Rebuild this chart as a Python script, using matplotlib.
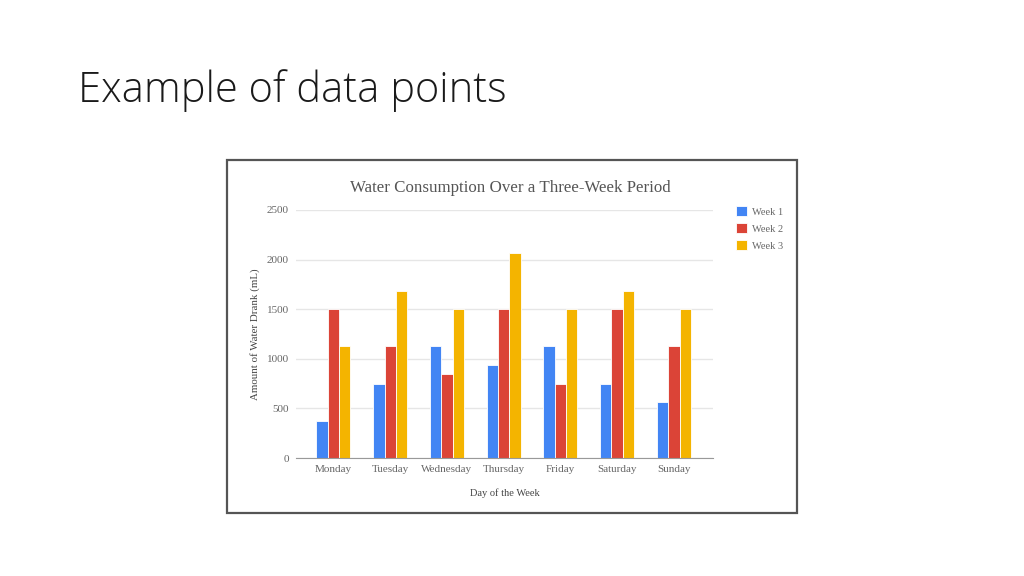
import numpy as np
import matplotlib
matplotlib.use('Agg')
from matplotlib import pyplot as plt
from matplotlib.patches import Rectangle

days = ['Monday', 'Tuesday', 'Wednesday', 'Thursday', 'Friday', 'Saturday', 'Sunday']
week1 = [375, 750, 1125, 937.5, 1125, 750, 562.5]
week2 = [1500, 1125, 843.75, 1500, 750, 1500, 1125]
week3 = [1125, 1687.5, 1500, 2062.5, 1500, 1687.5, 1500]
series = ['Week 1', 'Week 2', 'Week 3']
colors = ['#4285F4', '#DB4437', '#F4B400']
yticks = [0, 500, 1000, 1500, 2000, 2500]

W, H = 1024, 576
fig = plt.figure(figsize=(10.24, 5.76), dpi=100)
fig.patch.set_facecolor('white')

# slide title
fig.text(78 / W, 1 - 91 / H, 'Example of data points', fontsize=30,
         family='Open Sans', fontweight='light', color='#1a1a1a', va='center', ha='left')

# frame round the embedded chart
fig.patches.append(Rectangle((227 / W, 1 - 513 / H), 570 / W, 353 / H,
                             transform=fig.transFigure, fill=False,
                             edgecolor='#555555', linewidth=1.6))

serif = 'Liberation Serif'
grey = '#666666'

ax = fig.add_axes([296 / W, 1 - 458 / H, 417 / W, 248 / H])
x = np.arange(len(days))
w = 0.2
for i, (vals, name, col) in enumerate(zip([week1, week2, week3], series, colors)):
    ax.bar(x + (i - 1) * w, vals, width=w, color=col, edgecolor='white',
           linewidth=0.6, label=name, zorder=3)

ax.set_xlim(-0.66, 6.69)
ax.set_ylim(0, 2500)
ax.set_yticks(yticks)
ax.set_xticks(x)
ax.set_xticklabels(days)
ax.grid(axis='y', color='#e6e6e6', linewidth=1, zorder=0)
for s in ['top', 'right', 'left']:
    ax.spines[s].set_visible(False)
ax.spines['bottom'].set_color('#999999')
ax.spines['bottom'].set_zorder(4)
ax.tick_params(length=0, labelsize=8, labelcolor=grey, pad=5)
for lbl in ax.get_xticklabels() + ax.get_yticklabels():
    lbl.set_family(serif)

ax.set_title('Water Consumption Over a Three-Week Period', family=serif,
             fontsize=12.2, color='#555555', pad=13, x=0.515)
ax.set_xlabel('Day of the Week', family=serif, fontsize=7.5, color='#444444', labelpad=10)
ax.set_ylabel('Amount of Water Drank (mL)', family=serif, fontsize=7.8, color='#444444', labelpad=5)

leg = fig.legend(loc='upper left', bbox_to_anchor=(727 / W, 1 - 197 / H), frameon=False,
                 prop={'family': serif, 'size': 7.5}, handlelength=1.0, handleheight=1.0,
                 labelspacing=0.65, handletextpad=0.5)
for t in leg.get_texts():
    t.set_color(grey)

plt.savefig('out.png', dpi=100)
